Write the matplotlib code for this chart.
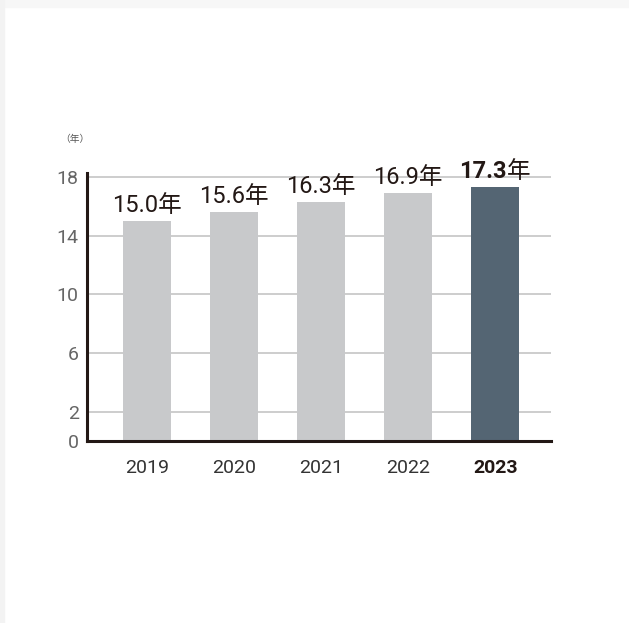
import matplotlib.pyplot as plt
from matplotlib.patches import Rectangle

years = ['2019', '2020', '2021', '2022', '2023']
values = [15.0, 15.6, 16.3, 16.9, 17.3]
yticks = [0, 2, 6, 10, 14, 18]

fonts = ['Roboto', 'Noto Sans CJK JP']
plt.rcParams['font.family'] = fonts

fig = plt.figure(figsize=(6.29, 6.23), dpi=100)
# faint frame at top and left edge
fig.patches.append(Rectangle((0, 1 - 7 / 623), 1, 7 / 623, transform=fig.transFigure,
                             color='#f7f7f7', zorder=0))
fig.patches.append(Rectangle((0, 0), 4 / 629, 1, transform=fig.transFigure,
                             color='#f3f3f3', zorder=0))

ax = fig.add_axes([87 / 629, 1 - 441 / 623, (551 - 87) / 629, (441 - 172.6) / 623])

colors = ['#c8c9cb'] * 4 + ['#546573']
x = range(len(years))
ax.bar(x, values, width=0.55, color=colors, zorder=2)

ax.set_xlim(-0.69, 4.64)
ax.set_ylim(0, 18.3)
ax.set_yticks(yticks)
ax.set_yticklabels([str(t) for t in yticks], fontsize=14, color='#666666')
ax.set_xticks(list(x))
ax.set_xticklabels(years, fontsize=14, color='#333333')
ax.get_xticklabels()[-1].set_fontweight('bold')
ax.get_xticklabels()[-1].set_color('#231815')
ax.tick_params(axis='both', length=0)
ax.tick_params(axis='x', pad=13)
ax.tick_params(axis='y', pad=6)

for t in [2, 6, 10, 14, 18]:
    ax.axhline(t, color='#c0c0c0', lw=1.1, zorder=1)

for s in ['top', 'right']:
    ax.spines[s].set_visible(False)
for s in ['left', 'bottom']:
    ax.spines[s].set_color('#231815')
    ax.spines[s].set_linewidth(2.2)
ax.spines['left'].set_bounds(0, 18.3)

for i, v in enumerate(values[:-1]):
    ax.annotate(f'{v:.1f}年', (i, v), xytext=(0, 3), textcoords='offset points',
                ha='center', va='bottom', fontsize=17, color='#231815')

i, v = len(values) - 1, values[-1]
ax.annotate(f'{v:.1f}', (i, v), xytext=(8, 3), textcoords='offset points',
            ha='right', va='bottom', fontsize=17, fontweight='bold', color='#231815')
ax.annotate('年', (i, v), xytext=(8, 3), textcoords='offset points',
            ha='left', va='bottom', fontsize=17, color='#231815')

fig.text(60 / 629, 1 - 139 / 623, '（年）', fontsize=7, color='#555555', va='center')

fig.savefig('out.png', dpi=100)
